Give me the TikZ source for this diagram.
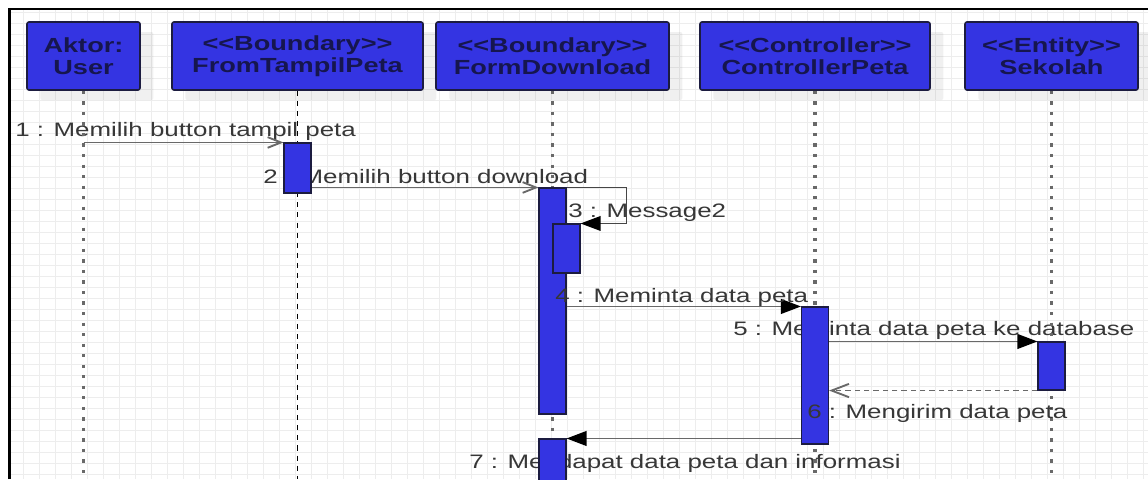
\documentclass[tikz,border=0pt]{standalone}
\usepackage{fontspec}
\setmainfont{Liberation Sans}
\usepackage{graphicx}
\usetikzlibrary{arrows.meta,fit,shadows,calc}

\definecolor{umlblue}{RGB}{52,52,226}
\definecolor{umledge}{RGB}{28,28,64}
\definecolor{headtext}{RGB}{22,22,78}
\definecolor{labeltext}{RGB}{55,55,55}
\definecolor{msgline}{RGB}{105,105,105}
\definecolor{loopline}{RGB}{70,70,70}
\definecolor{gridline}{RGB}{237,237,237}
\definecolor{lifegray}{RGB}{105,105,105}

% the diagram's text is set slightly widened
\newcommand\hs[1]{\scalebox{1.33}[1]{#1}}
\newcommand\lguil{<\kern0pt<}
\newcommand\rguil{>\kern0pt>}

\begin{document}
\begin{tikzpicture}[x=0.75pt,y=-0.75pt,
  head/.style={draw=umledge, fill=umlblue, line width=1.2pt, rounded corners=1.5pt,
    inner sep=0pt, minimum height=51pt, align=center, text=headtext,
    font=\fontsize{15.3}{16.5}\selectfont\bfseries,
    drop shadow={shadow xshift=10pt, shadow yshift=-7.5pt, fill=black, opacity=0.06}},
  act/.style={draw=umledge, fill=umlblue, line width=0.8pt, inner sep=0pt},
  msglabel/.style={anchor=base west, inner sep=0pt, text=labeltext,
    font=\fontsize{14.6}{17}\selectfont},
  life/.style={lifegray, line width=2.4pt, dash pattern=on 2.4pt off 5.5pt},
  lifedash/.style={black, line width=1.1pt, dash pattern=on 3.8pt off 3.8pt},
  msg/.style={msgline, line width=1.4pt},
  retmsg/.style={msgline, line width=1.4pt, dash pattern=on 4pt off 3pt},
  selfmsg/.style={loopline, line width=0.9pt},
  solidhead/.style={-{Triangle[length=15pt,width=11pt,black]}},
  openhead/.style={-{Straight Barb[length=10pt,width=8pt]}},
  bigopenhead/.style={-{Straight Barb[length=13pt,width=10pt]}},
]
\useasboundingbox (0,0) rectangle (1148,479);
\clip (0,0) rectangle (1148,479);
\fill[white] (0,0) rectangle (1148,479);

% background grid
\foreach \gx in {23,39,...,1143} \draw[gridline, line width=0.75pt] (\gx,10) -- (\gx,479);
\foreach \gy in {12.7,23.7,...,478.7} \draw[gridline, line width=0.75pt] (10,\gy) -- (1148,\gy);

% frame
\draw[black, line width=1.9pt] (9.5,479) -- (9.5,9.2) -- (1148,9.2);

% object headers (widths in pt: 1 unit = 0.75pt)
\node[head, minimum width=84.75pt] (user) at (83.5,56) {\hs{Aktor:}\\\hs{User}};
\node[head, minimum width=188.25pt] (ftp) at (297.5,56) {\hs{\lguil Boundary\rguil}\\\hs{FromTampilPeta}};
\node[head, minimum width=174.75pt] (fdl) at (552.5,56) {\hs{\lguil Boundary\rguil}\\\hs{FormDownload}};
\node[head, minimum width=172.5pt] (ctl) at (815,56) {\hs{\lguil Controller\rguil}\\\hs{ControllerPeta}};
\node[head, minimum width=129.75pt] (sek) at (1051.5,56) {\hs{\lguil Entity\rguil}\\\hs{Sekolah}};
\coordinate (bottom) at (0,479);

% message labels lying under the activation bars
\node[msglabel] (l1) at (15,136.5) {\hs{1 : Memilih button tampil peta}};
\node[msglabel] (l2) at (263,183) {\hs{2 : Memilih button download}};
\node[msglabel] (l3) at (568,217) {\hs{3 : Message2}};
\node[msglabel] (l5) at (733,335) {\hs{5 : Meminta data peta ke database}};
\node[msglabel] (l7) at (469,468) {\hs{7 : Mendapat data peta dan informasi}};

% lifelines
\draw[life] (user.south) -- (user.south |- bottom);
\draw[lifedash] (ftp.south) -- (ftp.south |- bottom);
\draw[life] (fdl.south) -- (fdl.south |- bottom);
\draw[life] (ctl.south) -- (ctl.south |- bottom);
\draw[life] (sek.south) -- (sek.south |- bottom);

% activation bars
\node[act, fit={(284,143) (311,193)}] (a1) {};
\node[act, fit={(539,188) (566,414)}] (a2) {};
\node[act, fit={(553,224) (580,273)}] (a3) {};
\node[act, fit={(801.5,307) (828.5,444)}] (a4) {};
\node[act, fit={(1038,342) (1065,390)}] (a5) {};
\node[act, fit={(539,439) (566,490)}] (a6) {};

% messages
\draw[msg, openhead] (user.south |- a1.north) -- (a1.north west);
\draw[msg, openhead] (a1.east |- a2.north) -- (a2.north west);
\draw[selfmsg, solidhead] (a2.north east) -- ++(60,0) |- (a3.north east);
\draw[msg, solidhead] (a2.east |- a4.north) -- (a4.north west);
\draw[msg, solidhead] (a4.east |- a5.north) -- (a5.north west);
\draw[retmsg, bigopenhead] (a5.south west) -- (a4.east |- a5.south);
\draw[msg, solidhead] (a4.west |- a6.north) -- (a6.north east);

% labels drawn over the bars
\node[msglabel] (l4) at (555,302) {\hs{4 : Meminta data peta}};
\node[msglabel] (l6) at (807,418) {\hs{6 : Mengirim data peta}};
\end{tikzpicture}
\end{document}
